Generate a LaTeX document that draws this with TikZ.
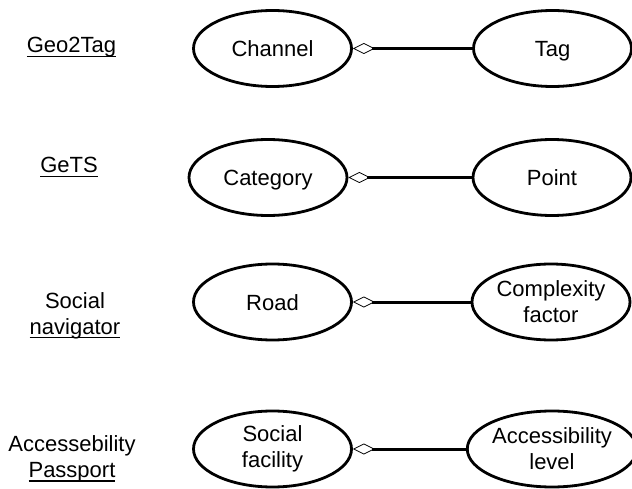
\documentclass[tikz,border=0pt]{standalone}
\usepackage{fontspec}
\setmainfont{Liberation Sans}
\usetikzlibrary{shapes.geometric,arrows.meta}
\newcommand\ulbox[1]{\setbox0\hbox{#1}\rlap{\rule[-4pt]{\wd0}{1.3pt}}\box0}
\begin{document}
\begin{tikzpicture}[x=1pt,y=-1pt,
  ent/.style={ellipse, draw, line width=2.8pt, minimum width=158pt, minimum height=76pt,
    inner sep=0pt, font=\fontsize{22}{26}\selectfont, align=center},
  one/.style={text height=16pt, text depth=0pt},
  lab/.style={font=\fontsize{22}{26}\selectfont, align=center},
  agg/.style={line width=3pt, {Diamond[open, length=22pt, width=11pt, line width=0.8pt]}-}]
\useasboundingbox (0,0) rectangle (632,489);
\node[ent, one] (c1) at (272.5,48.5) {Channel};
\node[ent, one] (t1) at (552.5,48.5) {Tag};
\node[ent, one] (c2) at (268,177.5) {Category};
\node[ent, one] (t2) at (552,177.5) {Point};
\node[ent, one] (c3) at (272.5,302) {Road};
\node[ent] (t3) at (551,302) {Complexity\\factor};
\node[ent] (c4) at (272.5,449) {Social\\facility};
\node[ent] (t4) at (552,449) {Accessibility\\level};
\draw[agg] (c1) -- (t1);
\draw[agg] (c2) -- (t2);
\draw[agg] (c3) -- (t3);
\draw[agg] (c4) -- (t4);
\node[lab, anchor=base] (l1) at (71.5,53) {\ulbox{Geo2Tag}};
\node[lab, anchor=base] (l2) at (69,173) {\ulbox{GeTS}};
\node[lab] (l3) at (75,315.4) {Social\\\ulbox{navigator}};
\node[lab] (l4) at (72,459) {Accessebility\\\ulbox{Passport}};
\end{tikzpicture}
\end{document}
